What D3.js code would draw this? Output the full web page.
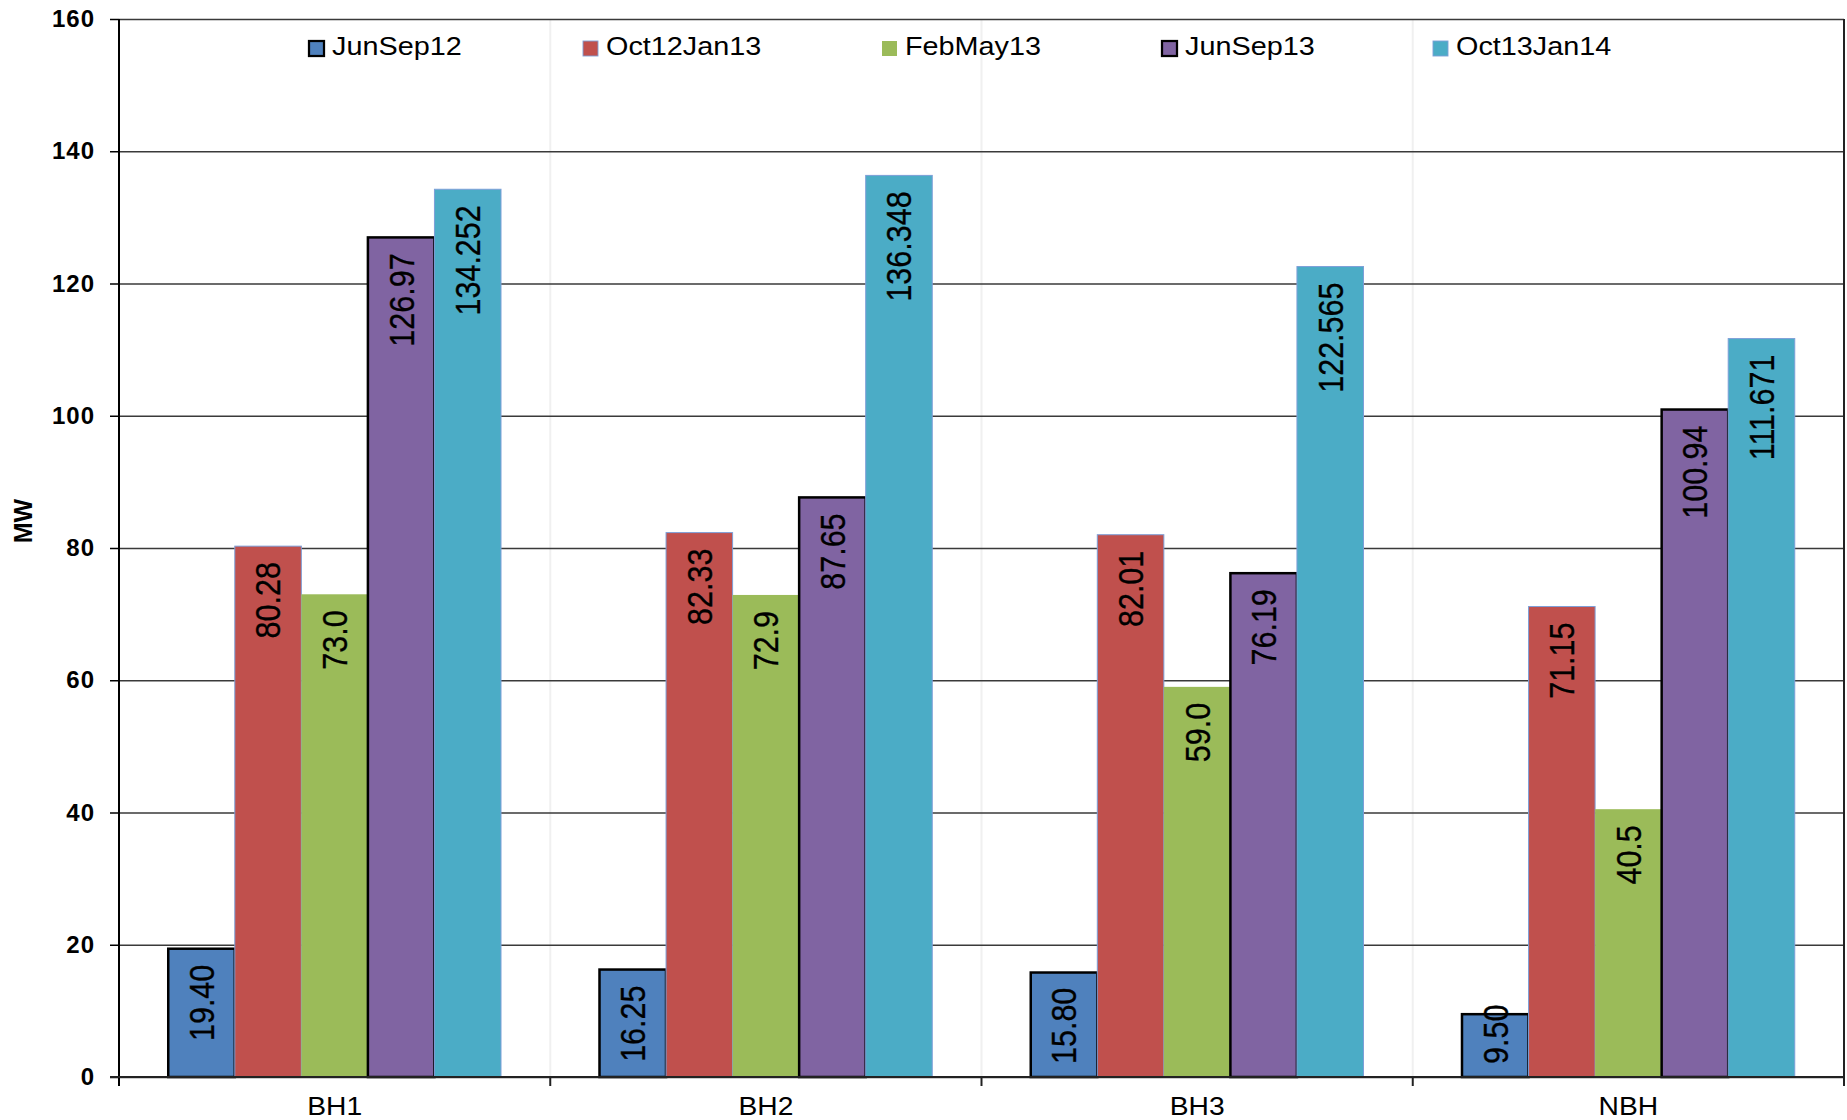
<!DOCTYPE html>
<meta charset="utf-8">
<style>
body { margin: 0; background: #fff; }
svg { display: block; font-family: "Liberation Sans", Arial, sans-serif; }
.grid line { stroke: #3a3a3a; stroke-width: 1.5px; }
.yaxis text { font-size: 24px; font-weight: bold; letter-spacing: 1px; fill: #000; }
.yaxis line { stroke: #000; stroke-width: 1.5px; }
.label { font-size: 30.5px; fill: #000; stroke: #000; stroke-width: 0.3px; }
</style>
<body>
<script src="https://cdn.jsdelivr.net/npm/d3@7"></script>
<script>

// categories and series
var categories = ["BH1", "BH2", "BH3", "NBH"];
var seriesNames = ["JunSep12", "Oct12Jan13", "FebMay13", "JunSep13", "Oct13Jan14"];
var junSep12   = [19.40, 16.25, 15.80, 9.50];
var oct12Jan13 = [80.28, 82.33, 82.01, 71.15];
var febMay13   = [73.0, 72.9, 59.0, 40.5];
var junSep13   = [126.97, 87.65, 76.19, 100.94];
var oct13Jan14 = [134.252, 136.348, 122.565, 111.671];
var decimals   = [2, 2, 1, 2, 3];
var yTicks     = [0, 20, 40, 60, 80, 100, 120, 140, 160];

var seriesValues = [junSep12, oct12Jan13, febMay13, junSep13, oct13Jan14];
var colors  = ["#4f81bd", "#c0504d", "#9bbb59", "#8064a2", "#4bacc6"];
var strokes = ["#000", "#7d9fd8", "none", "#000", "#7d9fd8"];
var strokeW = [2.5, 1, 0, 2.5, 1];

var W = 1847, H = 1120;
var pLeft = 119, pRight = 1844, pTop = 19, pBottom = 1077;
var sx = 1.13; // the original text is a bit wide

var svg = d3.select("body").append("svg")
    .attr("width", W)
    .attr("height", H);

var x0 = d3.scaleBand().domain(categories).range([pLeft, pRight]).padding(0);
var x1 = d3.scaleBand().domain(d3.range(seriesNames.length))
    .range([0, x0.bandwidth()]).paddingInner(0).paddingOuter(0.74);
var y = d3.scaleLinear().domain([0, 160]).range([pBottom, pTop]);

// faint vertical lines between categories
svg.append("g").selectAll("line")
    .data(categories.slice(1))
    .enter().append("line")
    .attr("x1", function(d) { return x0(d); })
    .attr("x2", function(d) { return x0(d); })
    .attr("y1", pTop).attr("y2", pBottom)
    .attr("stroke", "#f0f0f0").attr("stroke-width", 2);

// horizontal gridlines
svg.append("g")
    .attr("class", "grid")
    .attr("transform", "translate(" + pLeft + ",0)")
    .call(d3.axisLeft(y).tickValues(yTicks).tickSize(-(pRight - pLeft)).tickFormat(""))
    .call(function(g) { g.select(".domain").remove(); });

// bars
var rows = [];
categories.forEach(function(c, ci) {
    seriesValues.forEach(function(vals, si) {
        rows.push({cat: c, s: si, v: vals[ci]});
    });
});

var bars = svg.append("g").selectAll("g")
    .data(rows)
    .enter().append("g");

bars.append("rect")
    .attr("x", function(d) { return x0(d.cat) + x1(d.s); })
    .attr("width", x1.bandwidth())
    .attr("y", function(d) { return y(d.v); })
    .attr("height", function(d) { return y(0) - y(d.v); })
    .attr("fill", function(d) { return colors[d.s]; })
    .attr("stroke", function(d) { return strokes[d.s]; })
    .attr("stroke-width", function(d) { return strokeW[d.s]; });

// value labels, rotated, inside the top of each bar
bars.append("text")
    .attr("class", "label")
    .attr("text-anchor", "end")
    .attr("dy", "0.36em")
    .text(function(d) { return d3.format("." + decimals[d.s] + "f")(d.v); })
    .attr("transform", function(d) {
        var len = this.getComputedTextLength();
        var ty = y(d.v) + 16;
        if (ty + len > y(0) - 13) ty = y(0) - 13 - len;
        var cx = x0(d.cat) + x1(d.s) + x1.bandwidth() / 2;
        return "translate(" + cx + "," + ty + ") scale(" + sx + ",1) rotate(-90)";
    });

// y axis
var yAxis = svg.append("g")
    .attr("class", "yaxis")
    .attr("transform", "translate(" + pLeft + ",0)")
    .call(d3.axisLeft(y).tickValues(yTicks).tickSize(9).tickPadding(15).tickFormat(d3.format("d")));
yAxis.select(".domain").remove();

svg.append("line")
    .attr("x1", pLeft).attr("x2", pLeft)
    .attr("y1", pTop).attr("y2", pBottom + 9)
    .attr("stroke", "#000").attr("stroke-width", 2);

// right border
svg.append("line")
    .attr("x1", pRight).attr("x2", pRight)
    .attr("y1", pTop).attr("y2", pBottom + 9)
    .attr("stroke", "#222").attr("stroke-width", 2);

// x axis
svg.append("line")
    .attr("x1", pLeft - 9).attr("x2", pRight)
    .attr("y1", pBottom).attr("y2", pBottom)
    .attr("stroke", "#222").attr("stroke-width", 2);

svg.append("g").selectAll("line")
    .data(categories.slice(1))
    .enter().append("line")
    .attr("x1", function(d) { return x0(d); })
    .attr("x2", function(d) { return x0(d); })
    .attr("y1", pBottom).attr("y2", pBottom + 9)
    .attr("stroke", "#222").attr("stroke-width", 2);

svg.append("g").selectAll("text")
    .data(categories)
    .enter().append("text")
    .attr("text-anchor", "middle")
    .style("font-size", "25px")
    .attr("transform", function(d) {
        return "translate(" + (x0(d) + x0.bandwidth() / 2) + "," + 1115 + ") scale(" + sx + ",1)";
    })
    .text(function(d) { return d; });

// y axis title
svg.append("text")
    .attr("transform", "translate(23,521) rotate(-90)")
    .attr("text-anchor", "middle")
    .attr("dominant-baseline", "central")
    .style("font-size", "25px")
    .style("font-weight", "bold")
    .text("MW");

// legend
var legendX = [309, 583, 882, 1162, 1433];
var legend = svg.append("g").selectAll("g")
    .data(seriesNames)
    .enter().append("g")
    .attr("transform", function(d, i) { return "translate(" + legendX[i] + ",41)"; });

legend.append("rect")
    .attr("width", 15).attr("height", 15)
    .attr("fill", function(d, i) { return colors[i]; })
    .attr("stroke", function(d, i) { return strokes[i]; })
    .attr("stroke-width", function(d, i) { return strokeW[i] * 0.9; });

legend.append("text")
    .attr("transform", "translate(23,14) scale(" + sx + ",1)")
    .style("font-size", "25.5px")
    .text(function(d) { return d; });

</script>
</body>
